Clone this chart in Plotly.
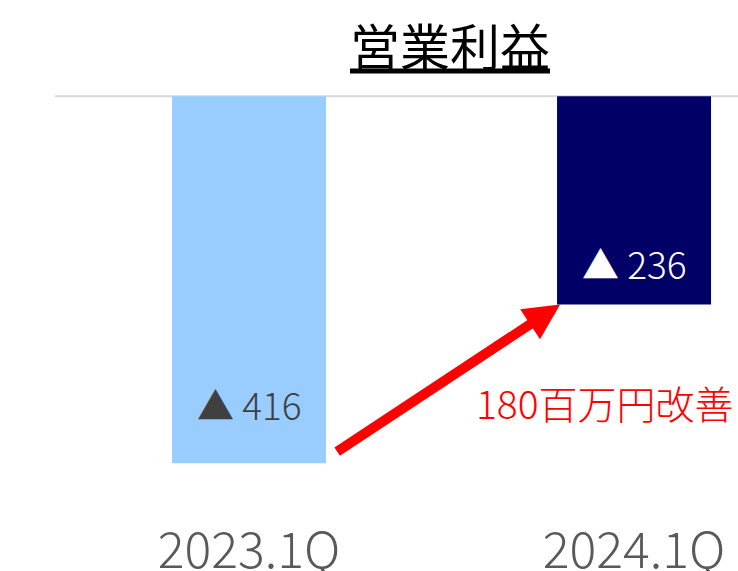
import plotly.graph_objects as go

categories = ["2023.1Q", "2024.1Q"]
values = [-416, -236]
bar_colors = ["#99CCFF", "#000066"]
label_colors = ["#404040", "#FFFFFF"]
label_shift = [59, 41]
title_text = "営業利益"

bar_w = 0.4
xs = list(range(len(categories)))
jp = "Noto Sans CJK JP, Open Sans, sans-serif"

fig = go.Figure()
fig.add_trace(go.Bar(
    x=xs, y=values, width=bar_w,
    marker=dict(color=bar_colors, line=dict(width=0)),
    hoverinfo="skip",
))

for i, v in enumerate(values):
    fig.add_annotation(
        x=xs[i], y=v, xref="x", yref="y",
        text=f"▲ {abs(v)}", showarrow=False,
        yanchor="middle", yshift=label_shift[i],
        font=dict(family=jp, size=37, color=label_colors[i], weight=300),
    )

# improvement arrow
fig.add_annotation(
    x=xs[1] - bar_w / 2 + 0.008, y=values[1],
    ax=xs[0] + bar_w / 2 + 0.025, ay=values[0] + 12,
    xref="x", yref="y", axref="x", ayref="y",
    text="", showarrow=True, arrowhead=2, arrowsize=0.72,
    arrowwidth=10, arrowcolor="#FF0000", standoff=0,
)
fig.add_annotation(
    x=xs[1] - 0.075, y=values[0], xref="x", yref="y", yshift=61,
    text=f"{values[1] - values[0]}百万円改善", showarrow=False,
    xanchor="center", yanchor="middle",
    font=dict(family=jp, size=39, color="#FF0000", weight=300),
)

fig.add_shape(type="line", xref="paper", yref="y", x0=0, x1=1, y0=0, y1=0,
              line=dict(color="#D9D9D9", width=2), layer="below")

fig.update_layout(
    width=738, height=571,
    margin=dict(l=55, r=0, t=95, b=54, autoexpand=False),
    paper_bgcolor="white", plot_bgcolor="white",
    showlegend=False,
    title=dict(
        text=f"<u>{title_text}</u>", xref="container", yref="container",
        x=450 / 738, y=1 - 48 / 571, xanchor="center", yanchor="middle",
        font=dict(family=jp, size=50, color="#000000"),
    ),
    xaxis=dict(
        range=[-0.504, 1.27], tickmode="array", tickvals=xs, ticktext=categories,
        showgrid=False, zeroline=False, showline=False, ticks="", automargin=False,
        tickfont=dict(family=jp, size=50, color="#595959", weight=300),
    ),
    yaxis=dict(
        range=[-477, 1.5], showgrid=False, zeroline=False, showline=False,
        showticklabels=False, ticks="", automargin=False,
    ),
)

fig.write_html(
    "out.html",
    config={"displayModeBar": False},
    post_script="document.body.style.margin='0';document.body.style.overflow='hidden';",
)
